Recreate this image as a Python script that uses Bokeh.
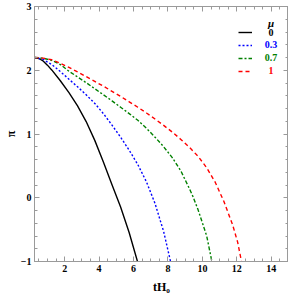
from bokeh.plotting import figure
from bokeh.models import LinearAxis, FixedTicker, Legend, LegendItem, Label
from bokeh.embed import file_html
from bokeh.resources import INLINE

# ---- data ----
t_mu0 = [0.25, 0.5, 0.75, 1.0, 1.25, 1.75, 2.25, 2.75, 3.25, 3.75, 4.25, 4.75, 5.25, 5.75, 6.23]
pi_mu0 = [2.2, 2.185, 2.145, 2.08, 2.005, 1.835, 1.65, 1.44, 1.195, 0.90, 0.56, 0.205, -0.145, -0.55, -1.0]

t_mu03 = [0.25, 0.75, 1.25, 1.75, 2.25, 2.75, 3.25, 3.75, 4.25, 4.75, 5.25, 5.75, 6.25, 6.75, 7.25, 7.75, 8.15]
pi_mu03 = [2.2, 2.17, 2.09, 1.98, 1.86, 1.74, 1.615, 1.48, 1.32, 1.14, 0.95, 0.745, 0.52, 0.25, -0.09, -0.53, -1.0]

t_mu07 = [0.25, 0.75, 1.25, 1.75, 2.25, 2.75, 3.25, 3.75, 4.25, 4.75, 5.25, 5.75, 6.25, 6.75, 7.25, 7.75,
          8.25, 8.75, 9.25, 9.45, 9.75, 10.25, 10.55]
pi_mu07 = [2.2, 2.19, 2.155, 2.09, 1.985, 1.895, 1.805, 1.71, 1.615, 1.52, 1.42, 1.32, 1.215, 1.09, 0.95, 0.80,
           0.63, 0.42, 0.14, 0.02, -0.19, -0.60, -1.0]

t_mu1 = [0.25, 0.75, 1.25, 1.75, 2.25, 2.75, 3.25, 3.75, 4.25, 4.75, 5.25, 5.75, 6.25, 6.75, 7.25, 7.75,
         8.25, 8.75, 9.25, 9.75, 10.25, 10.75, 11.25, 11.75, 12.05, 12.27]
pi_mu1 = [2.2, 2.19, 2.165, 2.11, 2.045, 1.975, 1.90, 1.825, 1.75, 1.67, 1.59, 1.505, 1.42, 1.33, 1.235, 1.135,
          1.03, 0.915, 0.79, 0.65, 0.47, 0.24, -0.06, -0.42, -0.70, -1.0]

mu_labels = ["0", "0.3", "0.7", "1"]
series_t = [t_mu0, t_mu03, t_mu07, t_mu1]
series_pi = [pi_mu0, pi_mu03, pi_mu07, pi_mu1]
colors = ["#000000", "#0000ff", "#008000", "#ff0000"]
dashes = ["solid", "2 2", "4 2 2 2", "4 3"]

x_major = [2, 4, 6, 8, 10, 12, 14]
x_minor = [0.5 * k for k in range(1, 31)]
y_major = [-1, 0, 1, 2, 3]
y_minor = [-1 + 0.2 * k for k in range(0, 21)]
y_label_overrides = {-1: "\u22121", 0: "0", 1: "1", 2: "2", 3: "3"}

FONT = "Liberation Serif"
AX = "#9a9a9a"

FW, FH = 254, 255

p = figure(frame_width=FW, frame_height=FH, x_range=(0.25, 15), y_range=(-1, 3),
           output_backend="svg", toolbar_location=None,
           min_border_left=33, min_border_right=0, min_border_top=6, min_border_bottom=0)
p.grid.visible = False
p.outline_line_color = AX
p.background_fill_color = "white"
p.border_fill_color = "white"

renderers = []
for t, y, c, d in zip(series_t, series_pi, colors, dashes):
    r = p.line(t, y, line_color=c, line_width=1.4, line_dash=d)
    renderers.append(r)

def style_axis(ax, ticks, minor, labels=True):
    ax.ticker = FixedTicker(ticks=ticks, minor_ticks=minor)
    ax.axis_line_color = AX
    ax.major_tick_line_color = AX
    ax.minor_tick_line_color = AX
    ax.major_tick_in = 5
    ax.major_tick_out = 0
    ax.minor_tick_in = 3
    ax.minor_tick_out = 0
    ax.major_label_text_font = FONT
    ax.major_label_text_font_style = "bold"
    ax.major_label_text_font_size = "10px"
    ax.major_label_text_color = "black"
    ax.axis_label_text_font = FONT
    ax.axis_label_text_font_style = "bold"
    ax.axis_label_text_font_size = "12px"
    ax.axis_label_text_color = "black"
    if not labels:
        ax.major_label_text_font_size = "0px"
        ax.major_label_text_color = None
        ax.major_label_standoff = 0

xa = p.xaxis[0]
style_axis(xa, x_major, x_minor)
xa.axis_label = "tH\u2080"
xa.major_label_standoff = 3
xa.axis_label_standoff = 5

ya = p.yaxis[0]
style_axis(ya, y_major, y_minor)
ya.axis_label = "\u03c0"
ya.major_label_overrides = y_label_overrides
ya.major_label_standoff = 3
ya.axis_label_standoff = 0

top = LinearAxis()
style_axis(top, x_major, x_minor, labels=False)
p.add_layout(top, "above")
right = LinearAxis()
style_axis(right, y_major, y_minor, labels=False)
p.add_layout(right, "right")

# legend (lines), labels drawn separately in their series colours
items = [LegendItem(label=" ", renderers=[r]) for r in renderers]
leg = Legend(items=items, location=(203.5, FH - 71), padding=0, margin=0, spacing=1,
             glyph_width=14, glyph_height=12, label_height=12, label_width=0,
             label_standoff=0, label_text_font_size="10px",
             background_fill_alpha=0, border_line_alpha=0)
p.add_layout(leg)

p.add_layout(Label(x=236.5, y=FH - 16, x_units="screen", y_units="screen", text="\u03bc",
                   text_font=FONT, text_font_style="bold italic", text_font_size="11px",
                   text_align="center", text_baseline="middle", text_color="black"))
row_y = [26, 38.3, 51.3, 64]
for lab, c, ry in zip(mu_labels, colors, row_y):
    p.add_layout(Label(x=236.5, y=FH - ry, x_units="screen", y_units="screen", text=lab,
                       text_font=FONT, text_font_style="bold", text_font_size="10px",
                       text_align="center", text_baseline="middle", text_color=c))

open("out.html", "w").write(file_html(p, INLINE))
